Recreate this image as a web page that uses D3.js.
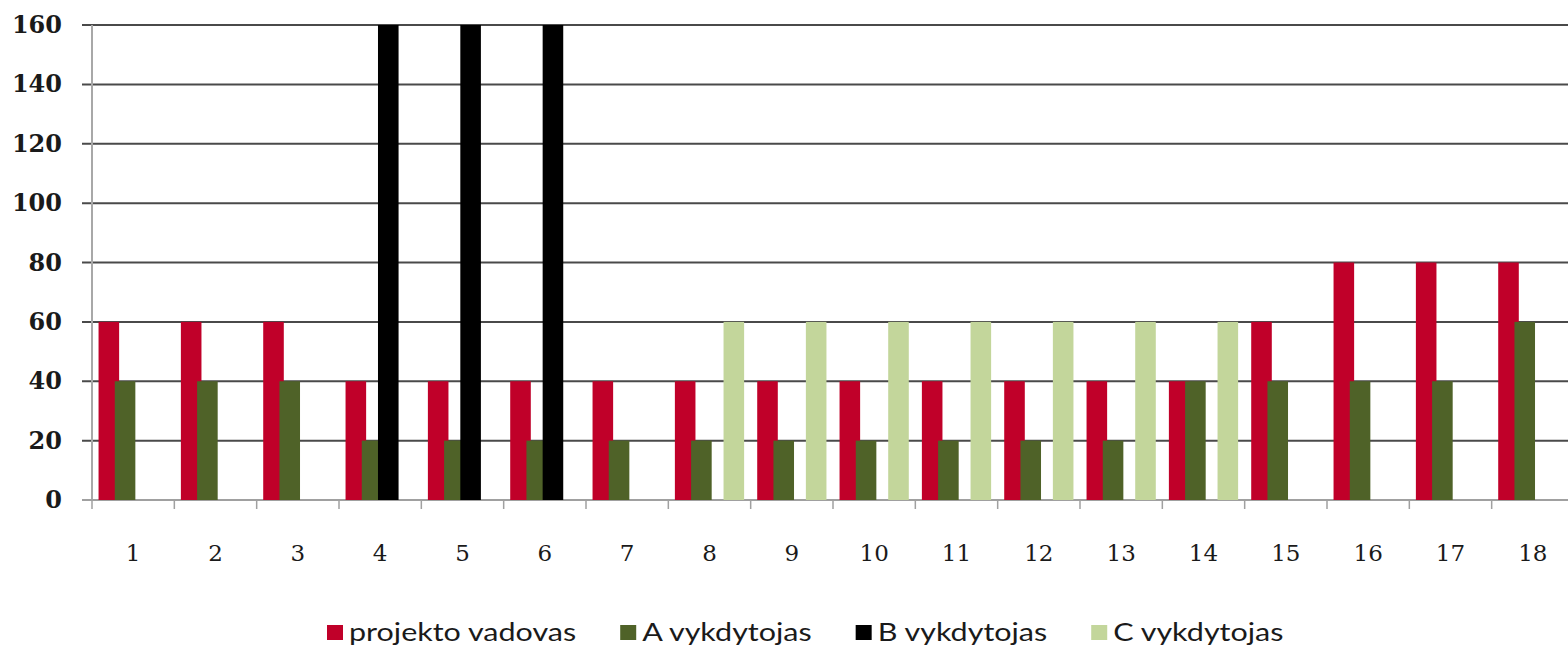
<!DOCTYPE html>
<html>
<head>
<meta charset="utf-8">
<script src="https://cdn.jsdelivr.net/npm/d3@7"></script>
<style>
  body { margin: 0; background: #fff; }
  svg { display: block; }
</style>
</head>
<body>
<div id="chart"></div>
<script>
var width = 1568,
  height = 648,
  plotLeft = 92,
  plotRight = 1574,
  plotTop = 25,
  plotBottom = 500;

// data
var categories = ['1', '2', '3', '4', '5', '6', '7', '8', '9', '10', '11', '12', '13', '14', '15', '16', '17', '18'];
var projektoVadovas = [60, 60, 60, 40, 40, 40, 40, 40, 40, 40, 40, 40, 40, 40, 60, 80, 80, 80];
var aVykdytojas = [40, 40, 40, 20, 20, 20, 20, 20, 20, 20, 20, 20, 20, 40, 40, 40, 40, 60];
var bVykdytojas = [0, 0, 0, 160, 160, 160, 0, 0, 0, 0, 0, 0, 0, 0, 0, 0, 0, 0];
var cVykdytojas = [0, 0, 0, 0, 0, 0, 0, 60, 60, 60, 60, 60, 60, 60, 0, 0, 0, 0];
var seriesNames = ['projekto vadovas', 'A vykdytojas', 'B vykdytojas', 'C vykdytojas'];
var seriesColors = ['#c00029', '#4f6228', '#000000', '#c3d69b'];
var yTicks = [0, 20, 40, 60, 80, 100, 120, 140, 160];

var series = [projektoVadovas, aVykdytojas, bVykdytojas, cVykdytojas];

var svg = d3.select('#chart')
  .append('svg')
  .attr('width', width)
  .attr('height', height);

var xScale = d3.scaleBand()
  .domain(categories)
  .range([plotLeft, plotRight]);

var yScale = d3.scaleLinear()
  .domain([0, 160])
  .range([plotBottom, plotTop]);

//Gridlines (they also make the left tick marks)
svg.append('g')
  .selectAll('line')
  .data(yTicks.filter(function (d) { return d > 0; }))
  .enter()
  .append('line')
  .attr('x1', plotLeft - 10)
  .attr('x2', plotRight)
  .attr('y1', function (d) { return yScale(d); })
  .attr('y2', function (d) { return yScale(d); })
  .attr('stroke', '#4a4a4a')
  .attr('stroke-width', 2);

//Y axis line
svg.append('line')
  .attr('x1', plotLeft).attr('x2', plotLeft)
  .attr('y1', plotTop).attr('y2', plotBottom)
  .attr('stroke', '#a8a8a8')
  .attr('stroke-width', 2);

//X axis line + boundary ticks
svg.append('line')
  .attr('x1', plotLeft - 10).attr('x2', plotRight)
  .attr('y1', plotBottom).attr('y2', plotBottom)
  .attr('stroke', '#a0a0a0')
  .attr('stroke-width', 2);

svg.append('g')
  .selectAll('line')
  .data(categories)
  .enter()
  .append('line')
  .attr('x1', function (d) { return xScale(d); })
  .attr('x2', function (d) { return xScale(d); })
  .attr('y1', plotBottom)
  .attr('y2', plotBottom + 9)
  .attr('stroke', '#a0a0a0')
  .attr('stroke-width', 1.5);

//Bars
var bw = xScale.bandwidth(),
  barW = bw * 0.25,
  step = bw * 0.197,
  pad = (bw - 3 * step - barW) / 2;

series.forEach(function (values, s) {
  svg.append('g')
    .attr('fill', seriesColors[s])
    .selectAll('rect')
    .data(values.map(function (v, i) { return { cat: categories[i], value: v }; })
      .filter(function (d) { return d.value > 0; }))
    .enter()
    .append('rect')
    .attr('x', function (d) { return xScale(d.cat) + pad + s * step; })
    .attr('y', function (d) { return yScale(d.value); })
    .attr('width', barW)
    .attr('height', function (d) { return yScale(0) - yScale(d.value); });
});

//Y labels
svg.append('g')
  .selectAll('text')
  .data(yTicks)
  .enter()
  .append('text')
  .attr('x', 62)
  .attr('y', function (d) { return yScale(d) + 8; })
  .attr('text-anchor', 'end')
  .style('font-family', '"DejaVu Serif", serif')
  .style('font-weight', 'bold')
  .style('font-size', '24px')
  .attr('fill', '#1a1a1a')
  .text(function (d) { return d; });

//X labels
svg.append('g')
  .selectAll('text')
  .data(categories)
  .enter()
  .append('text')
  .attr('x', function (d) { return xScale(d) + bw / 2; })
  .attr('y', 561)
  .attr('text-anchor', 'middle')
  .style('font-family', '"DejaVu Serif", serif')
  .style('font-size', '23px')
  .attr('fill', '#1a1a1a')
  .text(function (d) { return d; });

//Legend (text is a bit stretched in the original)
var legend = svg.append('g');
var lx = 327,
  stretch = 1.22;
seriesNames.forEach(function (name, i) {
  legend.append('rect')
    .attr('x', lx)
    .attr('y', 625)
    .attr('width', 16)
    .attr('height', 15)
    .attr('fill', seriesColors[i]);
  var t = legend.append('text')
    .attr('transform', 'translate(' + (lx + 22) + ',641) scale(' + stretch + ',1)')
    .style('font-family', 'Lato, sans-serif')
    .style('font-size', '25px')
    .attr('fill', '#1a1a1a')
    .text(name);
  lx += 22 + t.node().getComputedTextLength() * stretch + 44;
});
</script>
</body>
</html>
